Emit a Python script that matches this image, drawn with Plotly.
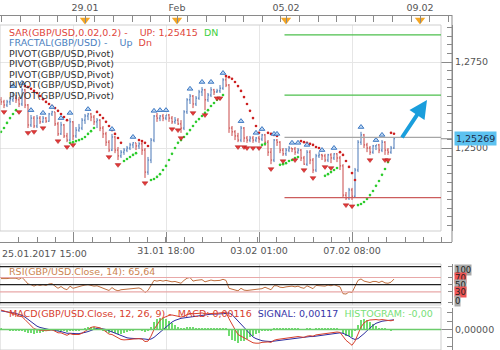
import plotly.graph_objects as go

# ---------------- data ----------------
opens = [1.2640, 1.2634, 1.2625, 1.2634, 1.2640, 1.2645, 1.2640, 1.2628, 1.2669, 1.2625,
         1.2567, 1.2587, 1.2564, 1.2587, 1.2576, 1.2587, 1.2578, 1.2599, 1.2605, 1.2570,
         1.2541, 1.2567, 1.2535, 1.2523, 1.2576, 1.2535, 1.2552, 1.2558, 1.2581, 1.2593,
         1.2599, 1.2590, 1.2576, 1.2581, 1.2558, 1.2541, 1.2517, 1.2494, 1.2532, 1.2494,
         1.2477, 1.2488, 1.2494, 1.2500, 1.2509, 1.2515, 1.2506, 1.2512, 1.2494, 1.2430,
         1.2465, 1.2523, 1.2593, 1.2587, 1.2593, 1.2587, 1.2596, 1.2587, 1.2576, 1.2581,
         1.2570, 1.2558, 1.2605, 1.2640, 1.2651, 1.2628, 1.2645, 1.2663, 1.2669, 1.2640,
         1.2654, 1.2669, 1.2663, 1.2666, 1.2674, 1.2698, 1.2683, 1.2558, 1.2547, 1.2535,
         1.2523, 1.2558, 1.2529, 1.2523, 1.2529, 1.2523, 1.2529, 1.2526, 1.2538, 1.2517,
         1.2488, 1.2465, 1.2523, 1.2517, 1.2494, 1.2483, 1.2494, 1.2500, 1.2497, 1.2488,
         1.2494, 1.2471, 1.2453, 1.2488, 1.2465, 1.2436, 1.2477, 1.2480, 1.2477, 1.2465,
         1.2480, 1.2471, 1.2483, 1.2471, 1.2448, 1.2363, 1.2355, 1.2378, 1.2360, 1.2436,
         1.2517, 1.2538, 1.2509, 1.2500, 1.2488, 1.2506, 1.2509, 1.2494, 1.2517, 1.2494,
         1.2488, 1.2500]
highs = [1.2648, 1.2640, 1.2640, 1.2648, 1.2663, 1.2654, 1.2648, 1.2674, 1.2672, 1.2628,
         1.2596, 1.2593, 1.2596, 1.2593, 1.2593, 1.2590, 1.2602, 1.2608, 1.2605, 1.2576,
         1.2576, 1.2570, 1.2544, 1.2587, 1.2578, 1.2561, 1.2570, 1.2587, 1.2599, 1.2602,
         1.2602, 1.2596, 1.2587, 1.2584, 1.2564, 1.2547, 1.2523, 1.2541, 1.2535, 1.2503,
         1.2494, 1.2500, 1.2506, 1.2515, 1.2517, 1.2515, 1.2517, 1.2517, 1.2500, 1.2474,
         1.2529, 1.2596, 1.2602, 1.2596, 1.2599, 1.2596, 1.2599, 1.2593, 1.2590, 1.2587,
         1.2581, 1.2610, 1.2645, 1.2657, 1.2654, 1.2651, 1.2669, 1.2677, 1.2672, 1.2660,
         1.2677, 1.2672, 1.2672, 1.2683, 1.2703, 1.2706, 1.2686, 1.2564, 1.2552, 1.2544,
         1.2564, 1.2561, 1.2535, 1.2535, 1.2535, 1.2532, 1.2535, 1.2541, 1.2541, 1.2523,
         1.2500, 1.2526, 1.2526, 1.2520, 1.2500, 1.2500, 1.2506, 1.2500, 1.2503, 1.2500,
         1.2497, 1.2477, 1.2494, 1.2494, 1.2471, 1.2483, 1.2488, 1.2483, 1.2483, 1.2483,
         1.2485, 1.2485, 1.2485, 1.2477, 1.2453, 1.2372, 1.2384, 1.2384, 1.2442, 1.2523,
         1.2547, 1.2541, 1.2515, 1.2506, 1.2509, 1.2509, 1.2512, 1.2523, 1.2520, 1.2500,
         1.2506, 1.2532]
lows = [1.2625, 1.2616, 1.2619, 1.2625, 1.2634, 1.2631, 1.2619, 1.2622, 1.2616, 1.2558,
        1.2561, 1.2558, 1.2558, 1.2570, 1.2573, 1.2573, 1.2576, 1.2593, 1.2564, 1.2535,
        1.2538, 1.2529, 1.2517, 1.2520, 1.2523, 1.2529, 1.2547, 1.2552, 1.2570, 1.2581,
        1.2578, 1.2567, 1.2558, 1.2549, 1.2529, 1.2506, 1.2488, 1.2491, 1.2485, 1.2465,
        1.2471, 1.2480, 1.2488, 1.2494, 1.2500, 1.2494, 1.2497, 1.2480, 1.2413, 1.2422,
        1.2456, 1.2517, 1.2576, 1.2578, 1.2578, 1.2581, 1.2576, 1.2570, 1.2570, 1.2567,
        1.2544, 1.2552, 1.2599, 1.2628, 1.2616, 1.2622, 1.2640, 1.2651, 1.2610, 1.2634,
        1.2648, 1.2654, 1.2660, 1.2660, 1.2669, 1.2677, 1.2544, 1.2535, 1.2523, 1.2517,
        1.2517, 1.2517, 1.2515, 1.2517, 1.2515, 1.2517, 1.2515, 1.2520, 1.2506, 1.2477,
        1.2453, 1.2459, 1.2506, 1.2485, 1.2477, 1.2477, 1.2488, 1.2488, 1.2480, 1.2483,
        1.2462, 1.2451, 1.2448, 1.2453, 1.2427, 1.2430, 1.2471, 1.2465, 1.2459, 1.2459,
        1.2456, 1.2465, 1.2459, 1.2436, 1.2355, 1.2349, 1.2349, 1.2349, 1.2355, 1.2430,
        1.2509, 1.2500, 1.2488, 1.2480, 1.2483, 1.2494, 1.2485, 1.2488, 1.2480, 1.2480,
        1.2483, 1.2497]
closes = [1.2634, 1.2625, 1.2634, 1.2640, 1.2645, 1.2640, 1.2628, 1.2669, 1.2625, 1.2567,
          1.2587, 1.2564, 1.2587, 1.2576, 1.2587, 1.2578, 1.2599, 1.2605, 1.2570, 1.2541,
          1.2567, 1.2535, 1.2523, 1.2576, 1.2535, 1.2552, 1.2558, 1.2581, 1.2593, 1.2599,
          1.2590, 1.2576, 1.2581, 1.2558, 1.2541, 1.2517, 1.2494, 1.2532, 1.2494, 1.2477,
          1.2488, 1.2494, 1.2500, 1.2509, 1.2515, 1.2506, 1.2512, 1.2494, 1.2430, 1.2465,
          1.2523, 1.2593, 1.2587, 1.2593, 1.2587, 1.2596, 1.2587, 1.2576, 1.2581, 1.2570,
          1.2558, 1.2605, 1.2640, 1.2651, 1.2628, 1.2645, 1.2663, 1.2669, 1.2640, 1.2654,
          1.2669, 1.2663, 1.2666, 1.2674, 1.2698, 1.2683, 1.2558, 1.2547, 1.2535, 1.2523,
          1.2558, 1.2529, 1.2523, 1.2529, 1.2523, 1.2529, 1.2526, 1.2538, 1.2517, 1.2488,
          1.2465, 1.2523, 1.2517, 1.2494, 1.2483, 1.2494, 1.2500, 1.2497, 1.2488, 1.2494,
          1.2471, 1.2453, 1.2488, 1.2465, 1.2436, 1.2477, 1.2480, 1.2477, 1.2465, 1.2480,
          1.2471, 1.2483, 1.2471, 1.2448, 1.2363, 1.2355, 1.2378, 1.2360, 1.2436, 1.2517,
          1.2538, 1.2509, 1.2500, 1.2488, 1.2506, 1.2509, 1.2494, 1.2517, 1.2494, 1.2488,
          1.2500, 1.25269]
bars = list(range(len(closes)))

frac_up_idx = [4, 7, 10, 14, 17, 20, 23, 29, 37, 44, 51, 53, 55, 63, 67, 70, 74, 80, 85, 87,
               91, 92, 97, 99, 102, 107, 111, 120, 125, 127]
frac_up_val = [1.2680, 1.2689, 1.2610, 1.2602, 1.2619, 1.2587, 1.2602, 1.2613, 1.2555, 1.2532,
               1.2608, 1.2610, 1.2610, 1.2672, 1.2692, 1.2692, 1.2718, 1.2578, 1.2544, 1.2555,
               1.2541, 1.2541, 1.2515, 1.2515, 1.2509, 1.2494, 1.2500, 1.2561, 1.2523, 1.2538]
frac_dn_idx = [1, 6, 9, 11, 14, 19, 22, 24, 36, 39, 48, 57, 59, 60, 64, 68, 72, 73, 79, 81,
               82, 84, 86, 90, 94, 98, 101, 104, 108, 110, 115, 117, 123, 128, 129]
frac_dn_val = [1.2605, 1.2605, 1.2544, 1.2547, 1.2558, 1.2520, 1.2503, 1.2509, 1.2474, 1.2451,
               1.2398, 1.2555, 1.2552, 1.2529, 1.2602, 1.2596, 1.2645, 1.2645, 1.2503, 1.2503,
               1.2500, 1.2500, 1.2500, 1.2439, 1.2462, 1.2465, 1.2436, 1.2413, 1.2445, 1.2442,
               1.2334, 1.2331, 1.2465, 1.2465, 1.2465]

# Parabolic SAR segments: (first bar, side, values)
sar_segments = [
    (0, 'up', [1.2547, 1.2558, 1.2573, 1.2587, 1.2599, 1.2610]),
    (8, 'dn', [1.2680, 1.2677, 1.2672, 1.2666, 1.2660, 1.2651, 1.2642, 1.2634, 1.2628, 1.2622,
               1.2616, 1.2608, 1.2599, 1.2590, 1.2581]),
    (23, 'up', [1.2515, 1.2517, 1.2520, 1.2523, 1.2526, 1.2532, 1.2541, 1.2549, 1.2558]),
    (32, 'dn', [1.2605, 1.2596, 1.2587, 1.2576, 1.2564, 1.2552, 1.2541, 1.2529, 1.2515]),
    (41, 'up', [1.2462, 1.2468, 1.2474, 1.2480, 1.2485]),
    (46, 'dn', [1.2523, 1.2520, 1.2515, 1.2506]),
    (50, 'up', [1.2407, 1.2410, 1.2416, 1.2424, 1.2436, 1.2448, 1.2465, 1.2483, 1.2500, 1.2515,
                1.2523, 1.2532, 1.2541, 1.2552, 1.2564, 1.2576, 1.2584, 1.2593, 1.2602, 1.2610,
                1.2622, 1.2631, 1.2640, 1.2645, 1.2654]),
    (75, 'dn', [1.2709, 1.2706, 1.2701, 1.2692, 1.2680, 1.2666, 1.2648, 1.2628, 1.2608, 1.2587,
                1.2564, 1.2544]),
    (87, 'up', [1.2509, 1.2512]),
    (89, 'dn', [1.2544, 1.2541, 1.2538, 1.2535]),
    (93, 'up', [1.2451, 1.2453, 1.2456, 1.2462, 1.2465, 1.2471, 1.2474]),
    (100, 'dn', [1.2520, 1.2517, 1.2515, 1.2512, 1.2509, 1.2503, 1.2500, 1.2494]),
    (108, 'up', [1.2419, 1.2424, 1.2430, 1.2436, 1.2442]),
    (113, 'dn', [1.2488, 1.2480, 1.2462, 1.2445, 1.2427, 1.2407]),
    (119, 'up', [1.2334, 1.2337, 1.2343, 1.2352, 1.2363, 1.2375, 1.2390, 1.2404, 1.2422, 1.2439,
                 1.2459]),
    (130, 'dn', [1.2544, 1.25415]),
]

pivot_levels = [1.2829, 1.2654, 1.2531, 1.2356]
pivot_colors = ['#4cbf4c', '#4cbf4c', '#a6a6a6', '#cc5c5c']
pivot_start = 94.5

rsi = [67, 66, 67, 68, 69, 68, 65, 70, 62, 52,
       50, 46, 50, 48, 50, 48, 52, 53, 46, 40,
       45, 39, 36, 46, 40, 43, 44, 47, 49, 50,
       48, 46, 47, 43, 40, 37, 34, 42, 36, 33,
       36, 37, 38, 40, 41, 40, 41, 37, 28, 34,
       48, 62, 60, 62, 60, 62, 60, 58, 59, 56,
       54, 62, 68, 70, 60, 62, 63, 64, 58, 60,
       63, 61, 61, 62, 65, 62, 40, 37, 35, 33,
       40, 35, 34, 35, 34, 36, 36, 39, 43, 39,
       36, 47, 47, 43, 42, 44, 46, 46, 44, 46,
       42, 40, 47, 43, 39, 48, 48, 48, 46, 49,
       47, 50, 47, 44, 25, 24, 30, 28, 45, 62,
       66, 60, 58, 56, 59, 59, 56, 60, 55, 54,
       57, 65.64]
rsi_levels = [100, 70, 50, 30, 0]

# MACD values in units of 0.0001
macd = [23.5, 22.5, 21.5, 20.5, 19.5, 18, 16, 15.5, 12, 8,
        5, 1, 0, -1, -1, -1.5, -1, -0.5, -2, -4,
        -4, -5.5, -7, -5, -6, -6, -6, -4.5, -2, 0.5,
        2.5, 3.4, 3, 2, 0, -2.5, -5.5, -6, -8, -10.5,
        -12, -12.5, -12.5, -12, -11.5, -11, -11, -11.5, -14.5, -14,
        -8, 0, 6, 11, 14, 16, 17, 17.5, 17, 16,
        15, 16, 18, 19.5, 19, 19, 19.5, 20, 19, 19,
        19.5, 19.5, 19.5, 20, 21, 21, 13, 6, 0, -6,
        -8, -11, -13, -15, -16, -16.5, -16.5, -15.5, -15, -15,
        -15.5, -13, -12, -11.5, -11, -10.5, -10, -9.5, -9, -8.5,
        -9, -9.5, -8, -7.5, -8, -6.5, -6, -5.5, -5, -4.5,
        -4, -3.5, -3, -3.5, -8, -13, -16, -19, -14, -5,
        3, 8, 10.5, 11.5, 12, 12, 11.5, 12, 11.5, 11,
        10.5, 11.6]
signal = [22.5, 22, 21.5, 21, 20.5, 19.5, 18, 17, 15, 12,
          9, 6, 4, 2.5, 1.5, 0.5, 0, -0.5, -1, -2,
          -2.5, -3.5, -4.5, -4.5, -5, -5, -5, -4.5, -3.5, -2.5,
          -1, 0.5, 1.5, 1.5, 1, 0, -1.5, -3, -4.5, -6,
          -7.5, -9, -10, -10.5, -11, -11, -11, -11, -11.5, -12,
          -11.5, -9.5, -6.5, -3, 0, 3.5, 6.5, 9, 11, 12.5,
          13.5, 14, 14.5, 15.5, 16, 16.5, 17, 17.5, 18, 18,
          18.5, 18.5, 18.5, 19, 19, 19.5, 20, 18, 14, 10,
          6, 2, -2, -6, -9, -11, -12.5, -13.5, -14, -14.5,
          -14.5, -14, -13.5, -13, -12.5, -12, -11.5, -11, -10.5, -10,
          -9.5, -9.5, -9, -8.5, -8.5, -8, -7.5, -7, -6.5, -6,
          -5.5, -5, -4.5, -4, -4.5, -6, -8, -10.5, -12, -11,
          -8.5, -5, -1.5, 2, 5, 7.5, 9, 10, 10.5, 11,
          11, 11.7]
hist = [1, 0.5, 0.5, -0.5, -1, -1.5, -2, -1.5, -3, -4,
        -4, -5, -4, -3.5, -2.5, -2, -1, 0, -1, -2,
        -1.5, -2, -2.5, -0.5, -1, -1, -1, 0, 1.5, 3,
        3.5, 3, 1.5, 0.5, -1, -2.5, -4, -3, -3.5, -4.5,
        -4.5, -3.5, -2.5, -1.5, -0.5, 0, 0, -0.5, -3, -2,
        3.5, 9.5, 12.5, 14, 14, 12.5, 10.5, 8.5, 6, 3.5,
        1.5, 2, 3.5, 4, 3, 2.5, 2.5, 2.5, 1, 1,
        1, 1, 1, 1, 2, 1.5, -7, -12, -14, -16,
        -14, -13, -11, -9, -7, -5.5, -4, -2, -1, -0.5,
        -1, 1, 1.5, 1.5, 1.5, 1.5, 1.5, 1.5, 1.5, 1.5,
        0.5, 0, 1, 1, 0.5, 1.5, 1.5, 1.5, 1.5, 1.5,
        1.5, 1.5, 1.5, 0.5, -3.5, -7, -8, -8.5, -2, 6,
        11.5, 13, 12, 9.5, 7, 4.5, 2.5, 2, 1, 0,
        -0.5, -0.1]

bottom_tick_pos = [24.33, 55, 86, 117]
bottom_tick_text = ['25.01.2017 15:00', '31.01 18:00', '03.02 01:00', '07.02 08:00']
top_tick_pos = [28, 58.67, 95, 139.67]
top_tick_text = ['29.01', 'Feb', '05.02', '09.02']
last_price = 1.25269

# ---------------- layout helpers ----------------
W, H = 500, 350
def px(x):
    return x / W
def py(y):
    return 1 - y / H

FONT = 'DejaVu Sans'
FS = 9.5
AX = '#8a8a8a'
GRID = '#e6e6e6'
XR = [-1 / 3, 150.3333]
XDOM = [0, px(452)]
PLOT_R = px(441)

fig = go.Figure()

# ---- main price panel ----
fig.add_trace(go.Ohlc(x=bars, open=opens, high=highs, low=lows, close=closes,
                      increasing_line_color='#4a78b8', decreasing_line_color='#c94848',
                      line_width=1, tickwidth=0.35, hoverinfo='skip',
                      xaxis='x', yaxis='y'))

for side, col in (('up', '#2ecc2e'), ('dn', '#cc2020')):
    sx, sy = [], []
    for start, s, vals in sar_segments:
        if s == side:
            sx += list(range(start, start + len(vals)))
            sy += vals
    fig.add_trace(go.Scatter(x=sx, y=sy, mode='markers', hoverinfo='skip',
                             marker=dict(size=2.6, color=col), xaxis='x', yaxis='y'))

fig.add_trace(go.Scatter(x=frac_up_idx, y=frac_up_val, mode='markers', hoverinfo='skip',
                         marker=dict(symbol='triangle-up', size=5, color='#bcd6f2',
                                     line=dict(color='#3d78c2', width=1)),
                         xaxis='x', yaxis='y'))
fig.add_trace(go.Scatter(x=frac_dn_idx, y=frac_dn_val, mode='markers', hoverinfo='skip',
                         marker=dict(symbol='triangle-down', size=5, color='#e23a3a',
                                     line=dict(color='#b01818', width=0.5)),
                         xaxis='x', yaxis='y'))

# top date markers (orange)
fig.add_trace(go.Scatter(x=top_tick_pos, y=[1 / 3] * len(top_tick_pos), mode='markers',
                         hoverinfo='skip',
                         marker=dict(symbol='triangle-down', size=9, color='#f5a623'),
                         xaxis='x2', yaxis='y5'))

# ---- RSI panel ----
fig.add_trace(go.Scatter(x=bars, y=rsi, mode='lines', hoverinfo='skip',
                         line=dict(color='#c07040', width=1), xaxis='x3', yaxis='y3'))

# ---- MACD panel ----
fig.add_trace(go.Bar(x=bars, y=hist, marker_color='#70dc70', marker_line_width=0,
                     width=0.55, hoverinfo='skip', xaxis='x4', yaxis='y4'))
fig.add_trace(go.Scatter(x=bars, y=signal, mode='lines', hoverinfo='skip',
                         line=dict(color='#2c2ca0', width=1), xaxis='x4', yaxis='y4'))
fig.add_trace(go.Scatter(x=bars, y=macd, mode='lines', hoverinfo='skip',
                         line=dict(color='#d8402c', width=1), xaxis='x4', yaxis='y4'))

tickfont = dict(family=FONT, size=FS, color='#555555')

shapes = []
# panel boxes
for y0, y1 in ((231, 25), (305, 264), (350, 307.7)):
    shapes.append(dict(type='rect', xref='paper', yref='paper', x0=0, x1=PLOT_R,
                       y0=py(y0), y1=py(y1), line=dict(color='#cfcfcf', width=1)))
# pivot lines
for lv, c in zip(pivot_levels, pivot_colors):
    shapes.append(dict(type='line', xref='x', yref='y', x0=pivot_start, x1=146.67,
                       y0=lv, y1=lv, line=dict(color=c, width=1.3)))
# RSI level lines
for lv in rsi_levels:
    c = '#e8a8a8' if lv in (70, 30) else '#222222'
    shapes.append(dict(type='line', xref='paper', yref='y3', x0=0, x1=PLOT_R,
                       y0=lv, y1=lv, line=dict(color=c, width=1.2)))
# MACD zero line
shapes.append(dict(type='line', xref='paper', yref='y4', x0=0, x1=PLOT_R, y0=0, y1=0,
                   line=dict(color='#6ccc6c', width=1.5)))
# right axis line extension and current price tick
shapes.append(dict(type='line', xref='paper', yref='paper', x0=px(452), x1=px(452),
                   y0=py(242), y1=py(15), line=dict(color=AX, width=1)))
shapes.append(dict(type='line', xref='paper', yref='y', x0=PLOT_R, x1=px(452),
                   y0=last_price, y1=last_price, line=dict(color='#888888', width=1)))

NB = '\u00a0'
legend_lines = [
    '<span style="color:#e0463c">SAR(GBP/USD,0.02,0.2) -' + NB * 4 + 'UP: 1,25415' + NB * 2 +
    '</span><span style="color:#3fd03f">DN</span>',
    '<span style="color:#4a80c0">FRACTAL(GBP/USD) -' + NB * 4 + 'Up' + NB * 2 +
    '</span><span style="color:#e0463c">Dn</span>',
    'PIVOT(GBP/USD,Pivot)', 'PIVOT(GBP/USD,Pivot)', 'PIVOT(GBP/USD,Pivot)',
    'PIVOT(GBP/USD,Pivot)', 'PIVOT(GBP/USD,Pivot)',
]
legend_y = [32.3, 42.8, 53.3, 63.6, 74, 84.6, 95.3]

ann = []
for t, yy in zip(legend_lines, legend_y):
    ann.append(dict(text=t, xref='paper', yref='paper', x=px(7), y=py(yy), xanchor='left',
                    yanchor='middle', showarrow=False,
                    font=dict(family=FONT, size=FS, color='#333333')))
ann.append(dict(text='RSI(GBP/USD.Close, 14): 65,64', xref='paper', yref='paper', x=px(7),
                y=py(271.7), xanchor='left', yanchor='middle', showarrow=False,
                font=dict(family=FONT, size=FS, color='#cc8450')))
ann.append(dict(text='<span style="color:#d8402c">MACD(GBP/USD.Close, 12, 26, 9) -' + NB * 2 +
                'MACD: 0,00116</span>' + NB * 2 +
                '<span style="color:#3535a8">SIGNAL: 0,00117</span>' + NB * 2 +
                '<span style="color:#77e077">HISTOGRAM: -0,00</span>',
                xref='paper', yref='paper', x=px(7), y=py(313.3), xanchor='left',
                yanchor='middle', showarrow=False, font=dict(family=FONT, size=FS)))
ann.append(dict(text=bottom_tick_text[0], xref='paper', yref='paper', x=0, y=py(253),
                xanchor='left', yanchor='middle', showarrow=False, font=tickfont))
ann.append(dict(text='1,25269', xref='paper', yref='y', x=px(454), y=last_price,
                xanchor='left', yanchor='middle', showarrow=False, bgcolor='#5cc2f0',
                borderpad=1, font=dict(family=FONT, size=FS, color='#1c2c48')))
rsi_lab_y = [269.8, 278.4, 285.3, 292.4, 300.8]
rsi_lab_bg = ['#a9a9a9', '#ee5555', '#a9a9a9', '#ee5555', '#a9a9a9']
for lv, yy, bg in zip(rsi_levels, rsi_lab_y, rsi_lab_bg):
    ann.append(dict(text=str(lv), xref='paper', yref='paper', x=px(454), y=py(yy),
                    xanchor='left', yanchor='middle', showarrow=False, bgcolor=bg,
                    borderpad=0, font=dict(family=FONT, size=8.5, color='#222222')))
# blue arrow
ann.append(dict(text='', xref='paper', yref='paper', x=px(427), y=py(100), ax=-26, ay=39,
                showarrow=True, arrowhead=2, arrowsize=0.9, arrowwidth=4,
                arrowcolor='#1a9edc', standoff=0))

fig.update_layout(
    width=W, height=H, margin=dict(l=0, r=0, t=0, b=0), autosize=False,
    paper_bgcolor='white', plot_bgcolor='white', showlegend=False,
    separators=',.', font=dict(family=FONT, size=FS, color='#555555'),
    bargap=0,
    xaxis=dict(domain=XDOM, range=XR, anchor='free', position=py(242),
               showline=True, linecolor=AX, ticks='inside', ticklen=10, tickcolor=AX,
               tickvals=bottom_tick_pos, ticktext=[''] + bottom_tick_text[1:],
               tickfont=tickfont, showgrid=True, gridcolor=GRID, zeroline=False,
               minor=dict(ticks='inside', ticklen=5, tickcolor=AX, tick0=24.33,
                          dtick=6.133, showgrid=False),
               rangeslider=dict(visible=False), fixedrange=True),
    yaxis=dict(domain=[py(231), py(25)], range=[1.22587, 1.28576], side='right',
               anchor='free', position=px(452), showline=True, linecolor=AX,
               ticks='inside', ticklen=11, tickcolor=AX, dtick=0.025, tick0=1.25,
               tickformat='.4f', tickfont=tickfont, showgrid=True, gridcolor=GRID,
               zeroline=False,
               minor=dict(ticks='inside', ticklen=5, tickcolor=AX, dtick=0.0025,
                          tick0=1.25, showgrid=False)),
    xaxis2=dict(domain=XDOM, range=XR, anchor='free', position=py(15), side='top',
                showline=True, linecolor=AX, ticks='inside', ticklen=7, tickcolor=AX,
                tickvals=top_tick_pos, ticktext=top_tick_text, tickfont=tickfont,
                showgrid=False, zeroline=False,
                minor=dict(ticks='inside', ticklen=6, tickcolor=AX, tick0=0.33,
                           dtick=6.2, showgrid=False)),
    yaxis5=dict(domain=[py(25), py(10)], range=[0, 1], visible=False, anchor='x2'),
    xaxis3=dict(domain=XDOM, range=XR, anchor='y3', showticklabels=False, ticks='',
                showgrid=True, gridcolor=GRID, tickvals=bottom_tick_pos, zeroline=False,
                showline=False),
    yaxis3=dict(domain=[py(305), py(264)], range=[-6.4, 107.5], side='right',
                anchor='free', position=px(452), showline=True, linecolor=AX,
                ticks='inside', ticklen=4, tickcolor=AX, tickvals=rsi_levels,
                showticklabels=False, showgrid=False, zeroline=False),
    xaxis4=dict(domain=XDOM, range=XR, anchor='y4', showticklabels=False, ticks='',
                showgrid=True, gridcolor=GRID, tickvals=bottom_tick_pos, zeroline=False,
                showline=False),
    yaxis4=dict(domain=[0, py(307.7)], range=[-24.7, 26.3], side='right',
                anchor='free', position=px(452), showline=True, linecolor=AX,
                ticks='inside', ticklen=11, tickcolor=AX, tickvals=[0],
                ticktext=['0,00000'], tickfont=tickfont, showgrid=False, zeroline=False,
                minor=dict(ticks='inside', ticklen=5, tickcolor=AX, dtick=10, tick0=0,
                           showgrid=False)),
    shapes=shapes, annotations=ann,
)

fig.write_html('out.html', config=dict(displayModeBar=False))
